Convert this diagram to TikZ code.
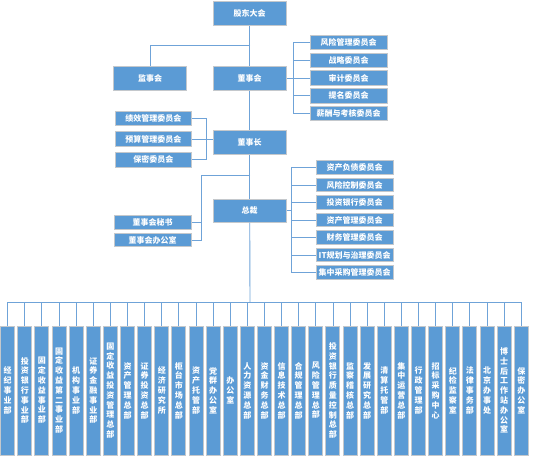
\documentclass[tikz,border=0pt]{standalone}
\usepackage{fontspec}
\setmainfont{Noto Sans CJK SC}
\usetikzlibrary{positioning}
\definecolor{boxblue}{HTML}{5B9BD5}
\definecolor{boxrim}{HTML}{C4C8CC}
\definecolor{wireblue}{HTML}{6FA3D8}
% one character per line
\newcommand\stackchars[1]{\stackcharsfirst#1\relax}
\def\stackcharsfirst#1{#1\stackcharsrest}
\def\stackcharsrest#1{\ifx#1\relax\else\\#1\expandafter\stackcharsrest\fi}
\tikzset{
x=1pt, y=-1pt, % pixel units, y runs downwards
every node/.style={font=\fontsize{8}{9.8}\selectfont\bfseries, text=white}, % white labels
box/.style={draw=boxrim, fill=boxblue, line width=1pt, inner sep=0pt, minimum width=73pt, minimum height=24pt}, % main boxes
com/.style={box, minimum width=77pt, minimum height=14.5pt, node distance=17.6pt}, % committees
dept/.style={box, minimum width=14pt, minimum height=129pt, align=center, node distance=17.12pt}, % departments
line/.style={draw=wireblue, line width=0.9pt}, % connectors
hv/.style={to path={-| (\tikztotarget)}}, % across, then down
vh/.style={to path={|- (\tikztotarget)}}, % down, then across
}
\begin{document}
\begin{tikzpicture}
\useasboundingbox (0,0) rectangle (555,456);
% spine
\node[box] (agm) at (249.7,13.7) {股东大会};
\node[box] (sup) at (150,78) {监事会};
\node[box] (board) at (249.7,78) {董事会};
\node[box] (chair) at (249.7,142) {董事长};
\node[box, minimum height=23pt] (ceo) at (249.7,210.7) {总裁};
% board committees
\node[com, node distance=17.8pt] (b1) at (348.7,42.5) {风险管理委员会};
\node[com, node distance=17.8pt, below of=b1] (b2) {战略委员会};
\node[com, node distance=17.8pt, below of=b2] (b3) {审计委员会};
\node[com, node distance=17.8pt, below of=b3] (b4) {提名委员会};
\node[com, node distance=17.8pt, below of=b4] (b5) {薪酬与考核委员会};
% chairman committees
\node[com, minimum width=76pt, node distance=20.8pt] (k1) at (153.3,118.3) {绩效管理委员会};
\node[com, minimum width=76pt, node distance=20.8pt, below of=k1] (k2) {预算管理委员会};
\node[com, minimum width=76pt, node distance=20.8pt, below of=k2] (k3) {保密委员会};
% ceo, left side
\node[com, minimum height=13.5pt, node distance=17.3pt] (sec) at (152.5,222.7) {董事会秘书};
\node[com, minimum height=13.5pt, node distance=17.3pt, below of=sec] (off) {董事会办公室};
% ceo committees
\node[com, minimum height=13.7pt, node distance=17.5pt] (r1) at (354.7,167.5) {资产负债委员会};
\node[com, minimum height=13.7pt, node distance=17.5pt, below of=r1] (r2) {风险控制委员会};
\node[com, minimum height=13.7pt, node distance=17.5pt, below of=r2] (r3) {投资银行委员会};
\node[com, minimum height=13.7pt, node distance=17.5pt, below of=r3] (r4) {资产管理委员会};
\node[com, minimum height=13.7pt, node distance=17.5pt, below of=r4] (r5) {财务管理委员会};
\node[com, minimum height=13.7pt, node distance=17.5pt, below of=r5] (r6) {IT规划与治理委员会};
\node[com, minimum height=13.7pt, node distance=17.5pt, below of=r6] (r7) {集中采购管理委员会};
% departments
\node[dept] (d1) at (7.7,390.5) {\stackchars{经纪事业部}};
\node[dept, right of=d1] (d2) {\stackchars{投资银行事业部}};
\node[dept, right of=d2] (d3) {\stackchars{固定收益事业部}};
\node[dept, right of=d3] (d4) {\stackchars{固定收益第二事业部}};
\node[dept, right of=d4] (d5) {\stackchars{机构事业部}};
\node[dept, right of=d5] (d6) {\stackchars{证券金融事业部}};
\node[dept, right of=d6] (d7) {\stackchars{固定收益投资管理总部}};
\node[dept, right of=d7] (d8) {\stackchars{资产管理总部}};
\node[dept, right of=d8] (d9) {\stackchars{证券投资总部}};
\node[dept, right of=d9] (d10) {\stackchars{经济研究所}};
\node[dept, right of=d10] (d11) {\stackchars{柜台市场总部}};
\node[dept, right of=d11] (d12) {\stackchars{资产托管部}};
\node[dept, right of=d12] (d13) {\stackchars{党群办公室}};
\node[dept, right of=d13] (d14) {\stackchars{办公室}};
\node[dept, right of=d14] (d15) {\stackchars{人力资源总部}};
\node[dept, right of=d15] (d16) {\stackchars{资金财务总部}};
\node[dept, right of=d16] (d17) {\stackchars{信息技术总部}};
\node[dept, right of=d17] (d18) {\stackchars{合规管理总部}};
\node[dept, right of=d18] (d19) {\stackchars{风险管理总部}};
\node[dept, right of=d19] (d20) {\stackchars{投资银行质量控制总部}};
\node[dept, right of=d20] (d21) {\stackchars{监察稽核总部}};
\node[dept, right of=d21] (d22) {\stackchars{发展研究总部}};
\node[dept, right of=d22] (d23) {\stackchars{清算托管部}};
\node[dept, right of=d23] (d24) {\stackchars{集中运营总部}};
\node[dept, right of=d24] (d25) {\stackchars{行政管理部}};
\node[dept, right of=d25] (d26) {\stackchars{招标采购中心}};
\node[dept, right of=d26] (d27) {\stackchars{纪检监察室}};
\node[dept, right of=d27] (d28) {\stackchars{法律事务部}};
\node[dept, right of=d28] (d29) {\stackchars{北京办事处}};
\node[dept, right of=d29] (d30) {\stackchars{博士后工作站办公室}};
\node[dept, right of=d30] (d31) {\stackchars{保密办公室}};
% joints
\coordinate (top) at (250,45);
\coordinate (bj) at (293.3,78);
\coordinate (kj) at (206.7,139.2);
\coordinate (lk) at (201.7,175);
\coordinate (rj) at (291.7,210.7);
\coordinate (bus) at (250,302);
\draw[line]
(agm) edge (board)
(board) edge (chair)
(chair) edge (ceo)
(ceo) edge (bus)
(top) edge[hv] (sup)
(board) edge (bj)
(bj) edge[vh] (b1.west) (bj) edge[vh] (b2.west) (bj) edge[vh] (b3.west)
(bj) edge[vh] (b4.west) (bj) edge[vh] (b5.west)
(kj -| chair.west) edge (kj)
(kj) edge[vh] (k1.east) (kj) edge[vh] (k2.east) (kj) edge[vh] (k3.east)
(lk -| top) edge (lk)
(lk) edge[vh] (sec.east) (lk) edge[vh] (off.east)
(ceo) edge (rj)
(rj) edge[vh] (r1.west) (rj) edge[vh] (r2.west) (rj) edge[vh] (r3.west) (rj) edge[vh] (r4.west)
(rj) edge[vh] (r5.west) (rj) edge[vh] (r6.west) (rj) edge[vh] (r7.west)
(bus) edge[hv] (d1) (bus) edge[hv] (d2) (bus) edge[hv] (d3) (bus) edge[hv] (d4)
(bus) edge[hv] (d5) (bus) edge[hv] (d6) (bus) edge[hv] (d7) (bus) edge[hv] (d8)
(bus) edge[hv] (d9) (bus) edge[hv] (d10) (bus) edge[hv] (d11) (bus) edge[hv] (d12)
(bus) edge[hv] (d13) (bus) edge[hv] (d14) (bus) edge[hv] (d15) (bus) edge[hv] (d16)
(bus) edge[hv] (d17) (bus) edge[hv] (d18) (bus) edge[hv] (d19) (bus) edge[hv] (d20)
(bus) edge[hv] (d21) (bus) edge[hv] (d22) (bus) edge[hv] (d23) (bus) edge[hv] (d24)
(bus) edge[hv] (d25) (bus) edge[hv] (d26) (bus) edge[hv] (d27) (bus) edge[hv] (d28)
(bus) edge[hv] (d29) (bus) edge[hv] (d30) (bus) edge[hv] (d31)
;
\end{tikzpicture}
\end{document}
